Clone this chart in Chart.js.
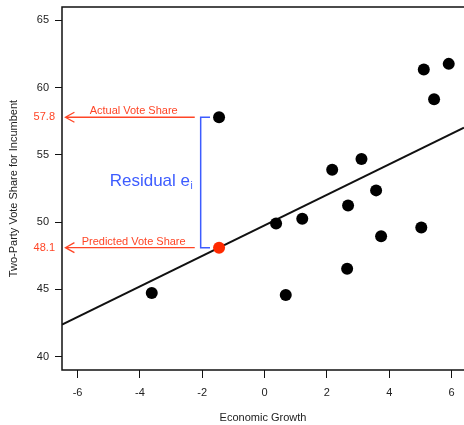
<!DOCTYPE html>
<html>
<head>
<meta charset="utf-8">
<script src="https://cdn.jsdelivr.net/npm/chart.js@4.4.0/dist/chart.umd.min.js"></script>
<style>
html, body { margin: 0; padding: 0; background: #fff; }
#wrap { width: 464px; height: 425px; }
</style>
</head>
<body>
<div id="wrap"><canvas id="chart" width="464" height="425"></canvas></div>
<script>
// observed elections (economic growth vs. incumbent vote share)
const growth = [-3.62, 0.37, 0.68, 1.21, 2.17, 2.65, 2.68, 3.11, 3.58, 3.74, 5.03, 5.11, 5.44, 5.91, -1.46];
const vote   = [44.72, 49.9, 44.57, 50.25, 53.9, 46.53, 51.24, 54.7, 52.36, 48.94, 49.6, 61.35, 59.14, 61.77, 57.8];

// predicted value for the highlighted election
const predX = [-1.46];
const predY = [48.1];

// fitted regression line endpoints
const fitX = [-6.5, 6.4];
const fitY = [42.38, 57.02];

const xTicks = [-6, -4, -2, 0, 2, 4, 6];
const yTicks = [40, 45, 50, 55, 60, 65];

const actualVal = 57.8;
const predictedVal = 48.1;

const RED = '#ff4526';
const BLUE = '#3d5cff';
const FONT = '"Liberation Sans", Arial, Helvetica, sans-serif';

const annot = {
  id: 'annot',
  afterDatasetsDraw(chart) {
    const ctx = chart.ctx;
    const xs = chart.scales.x, ys = chart.scales.y;
    const a = chart.chartArea;
    ctx.save();

    // frame
    ctx.strokeStyle = '#111';
    ctx.lineWidth = 1.5;
    ctx.strokeRect(a.left, a.top, a.right - a.left + 20, a.bottom - a.top);

    // arrows
    const tipX = xs.getPixelForValue(-6.39);
    const tailX = xs.getPixelForValue(-2.24);
    ctx.strokeStyle = RED;
    ctx.lineWidth = 1.3;
    [actualVal, predictedVal].forEach(v => {
      const y = ys.getPixelForValue(v);
      ctx.beginPath();
      ctx.moveTo(tailX, y);
      ctx.lineTo(tipX, y);
      ctx.moveTo(tipX + 9, y - 5);
      ctx.lineTo(tipX, y);
      ctx.lineTo(tipX + 9, y + 5);
      ctx.stroke();
    });

    ctx.fillStyle = RED;
    ctx.font = '11px ' + FONT;
    ctx.textAlign = 'center';
    ctx.textBaseline = 'middle';
    const labX = xs.getPixelForValue(-4.2);
    ctx.fillText('Actual Vote Share', labX, ys.getPixelForValue(actualVal) - 6);
    ctx.fillText('Predicted Vote Share', labX, ys.getPixelForValue(predictedVal) - 6);

    // values on the y axis
    ctx.textAlign = 'right';
    ctx.fillText(String(actualVal), 55, ys.getPixelForValue(actualVal));
    ctx.fillText(String(predictedVal), 55, ys.getPixelForValue(predictedVal));

    // residual bracket
    const bx = xs.getPixelForValue(-2.05);
    const bx2 = xs.getPixelForValue(-1.75);
    const y1 = ys.getPixelForValue(actualVal), y2 = ys.getPixelForValue(predictedVal);
    ctx.strokeStyle = BLUE;
    ctx.lineWidth = 1.5;
    ctx.beginPath();
    ctx.moveTo(bx2, y1);
    ctx.lineTo(bx, y1);
    ctx.lineTo(bx, y2);
    ctx.lineTo(bx2, y2);
    ctx.stroke();

    ctx.fillStyle = BLUE;
    ctx.font = '17px ' + FONT;
    ctx.textAlign = 'left';
    const ry = (y1 + y2) / 2 - 1;
    const rx = xs.getPixelForValue(-4.97);
    ctx.fillText('Residual e', rx, ry);
    const w = ctx.measureText('Residual e').width;
    ctx.font = '10px ' + FONT;
    ctx.fillText('i', rx + w + 0.5, ry + 5);

    ctx.restore();
  }
};

const scatterPts = growth.map((g, i) => ({ x: g, y: vote[i] }));
const predPts = predX.map((g, i) => ({ x: g, y: predY[i] }));
const fitPts = fitX.map((g, i) => ({ x: g, y: fitY[i] }));

new Chart(document.getElementById('chart'), {
  type: 'scatter',
  data: {
    datasets: [
      {
        type: 'line',
        data: fitPts,
        borderColor: '#111',
        borderWidth: 2,
        pointRadius: 0,
        fill: false,
        order: 3
      },
      {
        data: scatterPts,
        backgroundColor: '#000',
        borderWidth: 0,
        pointRadius: 6,
        order: 2
      },
      {
        data: predPts,
        backgroundColor: '#ff2a00',
        borderWidth: 0,
        pointRadius: 6,
        order: 1
      }
    ]
  },
  options: {
    responsive: false,
    animation: false,
    devicePixelRatio: 1,
    layout: { autoPadding: false, padding: { top: 7, right: 0, left: 0, bottom: 0 } },
    plugins: {
      legend: { display: false },
      tooltip: { enabled: false }
    },
    scales: {
      x: {
        type: 'linear',
        min: -6.5,
        max: 6.4,
        afterBuildTicks: s => { s.ticks = xTicks.map(v => ({ value: v })); },
        afterFit: s => { s.height = 55; s.paddingLeft = 0; s.paddingRight = 0; },
        grid: { display: true, drawOnChartArea: false, tickLength: 8, color: '#111', lineWidth: 1 },
        border: { display: false },
        ticks: { color: '#222', font: { family: FONT, size: 11 }, padding: 8, maxRotation: 0 },
        title: { display: true, text: 'Economic Growth', color: '#222', font: { family: FONT, size: 11 }, padding: { top: 0, bottom: 0 } }
      },
      y: {
        type: 'linear',
        min: 39,
        max: 66,
        afterBuildTicks: s => { s.ticks = yTicks.map(v => ({ value: v })); },
        afterFit: s => { s.width = 62; s.paddingTop = 0; s.paddingBottom = 0; },
        grid: { display: true, drawOnChartArea: false, tickLength: 7, color: '#111', lineWidth: 1 },
        border: { display: false },
        ticks: { color: '#222', font: { family: FONT, size: 11 }, padding: 6 },
        title: { display: true, text: 'Two-Party Vote Share for Incumbent', color: '#222', font: { family: FONT, size: 11 }, padding: { top: 7, bottom: 0 } }
      }
    }
  },
  plugins: [annot]
});
</script>
</body>
</html>
